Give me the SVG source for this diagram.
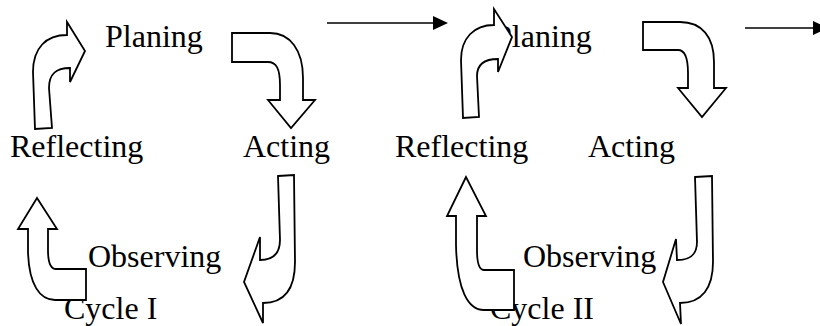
<svg xmlns="http://www.w3.org/2000/svg" width="820" height="326" viewBox="0 0 820 326">
<style>
text{font-family:"Liberation Serif","Times New Roman",serif;font-size:32px;fill:#000}
.ba{fill:#fff;stroke:#000;stroke-width:1.8;stroke-linejoin:miter}
.ln{stroke:#000;stroke-width:1.5;fill:none}
</style>
<defs>
<marker id="ah" viewBox="0 0 15 14" refX="0" refY="7" markerUnits="userSpaceOnUse" markerWidth="15" markerHeight="14" orient="auto">
<path d="M0,0 L15,7 L0,14 Z" fill="#000"/>
</marker>
</defs>
<g id="nodes">
<g id="planing1"><text x="105" y="47">Planing</text></g>
<g id="acting1"><text x="243" y="157">Acting</text></g>
<g id="observing1"><text x="88" y="267">Observing</text></g>
<g id="reflecting1"><text x="10" y="157">Reflecting</text></g>
<g id="cycle1"><text x="64" y="319">Cycle I</text></g>
<g id="planing2"><text x="494" y="47">Planing</text></g>
<g id="acting2"><text x="588" y="157">Acting</text></g>
<g id="observing2"><text x="523" y="267">Observing</text></g>
<g id="reflecting2"><text x="395" y="157">Reflecting</text></g>
<g id="cycle2"><text x="490" y="319">Cycle II</text></g>
</g>
<g id="connectors">
<path class="ba" d="M35,129 L33,72 C33,48 46,35 67,35 L67,22 L85,51 L70,82 L70,68 C57,68 49,73 49,88 L52,128 Z"/>
<path class="ba" d="M232,33 L232,62 L268,62 C276,62 280,68 280,85 L280,100 L268,100 L291,128 L315,100 L303,100 L303,78 C303,50 290,33 270,33 Z"/>
<path class="ba" d="M278,176 L294,175 L295,262 C295,288 285,303 263,303 L263,323 L244,282 L260,237 L260,260 C272,260 280,255 280,240 Z"/>
<path class="ba" d="M37,198 L18,229 L28,229 L28,252 C29,285 40,300 55,300 L86,300 L86,269 L56,269 C51,269 48,262 48,250 L48,229 L57,229 Z"/>
<path class="ba" d="M463,118 L461,60 C461,38 474,25 494,25 L494,9 L512,37 L498,72 L498,59 C486,59 477,63 477,76 L479,117 Z"/>
<path class="ba" d="M643,22 L643,50 L678,50 C685,50 688,58 688,73 L688,88 L678,88 L702,117 L726,88 L714,88 L714,62 C714,37 702,22 680,22 Z"/>
<path class="ba" d="M695,177 L712,176 L713,262 C713,288 702,303 680,303 L681,324 L663,282 L676,239 L677,260 C690,260 697,255 697,242 Z"/>
<path class="ba" d="M466,177 L447,216 L456,216 L456,245 C457,290 468,310 484,310 L514,310 L514,270 L484,270 C479,270 477,263 477,250 L477,216 L486,216 Z"/>
<line class="ln" x1="327" y1="23" x2="433" y2="23" marker-end="url(#ah)"/>
<line class="ln" x1="745" y1="28" x2="813" y2="28" marker-end="url(#ah)"/>
</g>
</svg>
